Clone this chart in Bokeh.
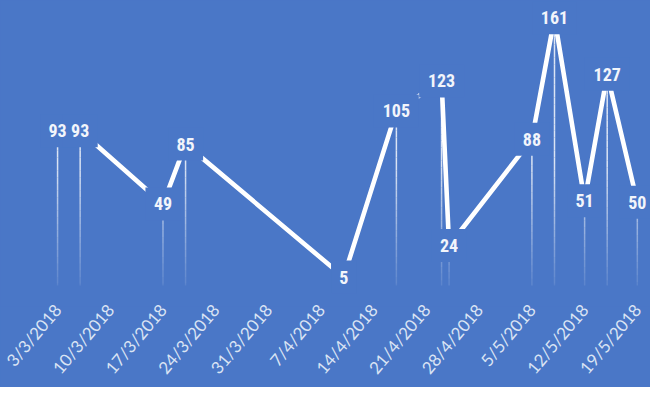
import math
import pandas as pd
from bokeh.plotting import figure
from bokeh.models import FixedTicker, Range1d
from bokeh.core.properties import value
from bokeh.embed import file_html
from bokeh.resources import INLINE

# ---- data ----
dates = ["2018-03-03", "2018-03-06", "2018-03-17", "2018-03-20", "2018-04-10",
         "2018-04-17", "2018-04-23", "2018-04-24", "2018-05-05", "2018-05-08",
         "2018-05-12", "2018-05-15", "2018-05-19"]
values = [93, 93, 49, 85, 5, 105, 123, 24, 88, 161, 51, 127, 50]
tick_labels = ["3/3/2018", "10/3/2018", "17/3/2018", "24/3/2018", "31/3/2018",
               "7/4/2018", "14/4/2018", "21/4/2018", "28/4/2018", "5/5/2018",
               "12/5/2018", "19/5/2018"]

BG = "#4a77c7"
LABEL_COLOR = "#f2f5fb"
TICK_COLOR = "#dae4f4"

x = pd.to_datetime(dates)
tick_dt = pd.to_datetime(tick_labels, format="%d/%m/%Y")
tick_ms = [float(t.value // 10**6) for t in tick_dt]

day_ms = 86400000.0
x_start = tick_ms[0] - 7.58 * day_ms
x_end = tick_ms[0] + 78.75 * day_ms

p = figure(width=650, height=387, x_axis_type="datetime", y_axis_location=None,
           toolbar_location=None, output_backend="svg",
           x_range=Range1d(x_start, x_end), y_range=Range1d(-12.68, 171.4),
           min_border=0, min_border_bottom=81,
           background_fill_color=BG, border_fill_color=BG, outline_line_color=None)
p.grid.visible = False
p.styles = {"background-color": BG}

ax = p.xaxis[0]
ax.ticker = FixedTicker(ticks=tick_ms, minor_ticks=[])
ax.major_label_overrides = {ms: lab for ms, lab in zip(tick_ms, tick_labels)}
ax.major_label_orientation = math.radians(50)
ax.axis_line_color = None
ax.major_tick_line_color = None
ax.minor_tick_line_color = None
ax.major_tick_out = 0
ax.major_tick_in = 0
ax.major_label_standoff = 0
ax.major_label_text_color = TICK_COLOR
ax.major_label_text_font = "Lato"
ax.major_label_text_font_size = "17px"

# ---- drop lines (fading towards the axis) ----
xs0, xs1, ys0, ys1, alphas = [], [], [], [], []
step = 4.0
for xi, v in zip(x, values):
    top = float(v)
    while top > 0:
        bot = max(0.0, top - step)
        xs0.append(xi); xs1.append(xi); ys0.append(top); ys1.append(bot)
        alphas.append(0.08 + 0.72 * min(1.0, top / 75.0))
        top = bot
p.segment(x0=xs0, y0=ys0, x1=xs1, y1=ys1, line_color="white",
          line_alpha=alphas, line_width=1.5)

# ---- main line ----
p.line(x, values, line_color="white", line_width=4.6)

# ---- label backgrounds hiding the line near each point ----
box_w = [9.8 * len(str(v)) + 15.5 for v in values]
p.rect(x=x, y=values, width=box_w, height=33, width_units="screen",
       height_units="screen", fill_color=BG, line_color=None)

p.text(x=x, y=values, text=[str(v) for v in values],
       text_font=value("Roboto Condensed, DejaVu Sans Condensed, Lato"),
       text_font_style="bold",
       text_font_size="18px", text_color=LABEL_COLOR,
       text_align="center", text_baseline="middle")

open("out.html", "w").write(file_html(p, INLINE))
